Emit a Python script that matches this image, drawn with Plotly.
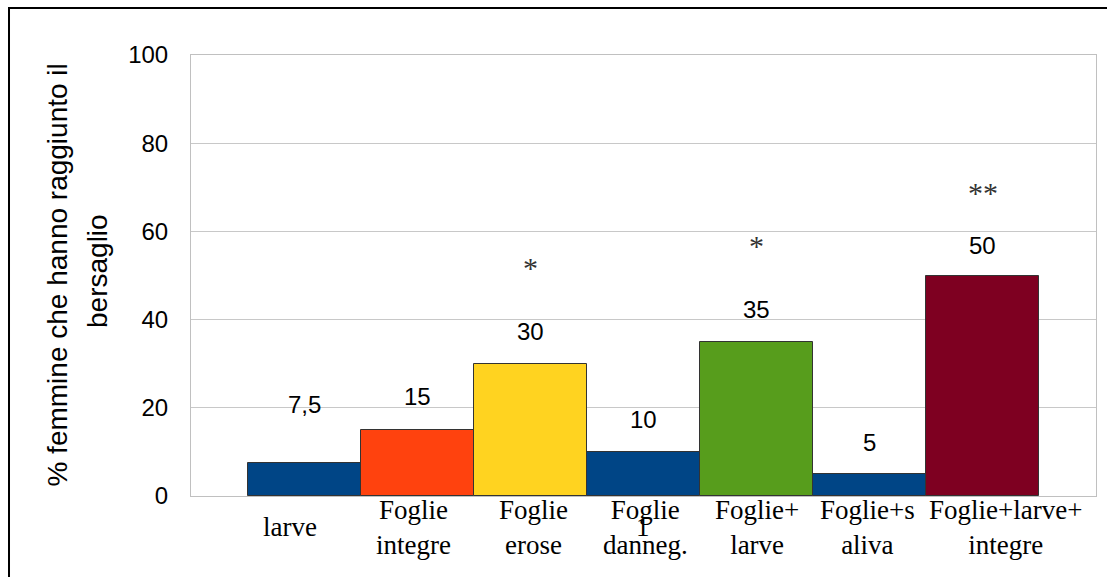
import plotly.graph_objects as go

# Treatments and share of females that reached the target (%)
categories = ["larve", "Foglie integre", "Foglie erose", "Foglie danneg.",
              "Foglie+ larve", "Foglie+s aliva", "Foglie+larve+ integre"]
tick_labels = ["larve", "Foglie<br>integre", "Foglie<br>erose", "Foglie<br>danneg.",
               "Foglie+<br>larve", "Foglie+s<br>aliva", "Foglie+larve+<br>integre"]
values = [7.5, 15, 30, 10, 35, 5, 50]
bar_colors = ["#004586", "#ff420e", "#ffd320", "#004586", "#579d1c", "#004586", "#7e0021"]

# Significance marks: category index, mark, height on the y scale
signif_idx = [2, 4, 6]
signif_text = ["*", "*", "**"]
signif_y = [52.8, 57.6, 69.8]

y_ticks = [0, 20, 40, 60, 80, 100]

SANS = "Liberation Sans, Arial, sans-serif"
SERIF = "Liberation Serif, Times New Roman, serif"

x_pos = list(range(len(categories)))

fig = go.Figure()
fig.add_trace(go.Bar(
    x=x_pos, y=values, width=1.0,
    marker=dict(color=bar_colors, line=dict(color="#333333", width=1)),
    hoverinfo="skip",
))

# value labels above the bars (Italian decimal comma)
label_shift = [58, 33, 32, 32, 32, 31, 30]
for xi, v, dy in zip(x_pos, values, label_shift):
    fig.add_annotation(x=xi, y=v, text=f"{v:g}".replace(".", ","), showarrow=False,
                       xref="x", yref="y", yanchor="middle", yshift=dy,
                       font=dict(family=SANS, size=24, color="#000000"))

# significance asterisks
for xi, t, yv in zip(signif_idx, signif_text, signif_y):
    fig.add_annotation(x=xi, y=yv, text=t, showarrow=False, xref="x", yref="y",
                       yanchor="middle", yshift=-4,
                       font=dict(family=SERIF, size=30, color="#333333"))

# category labels under the axis, vertically centred in the label band
label_xshift = [-14, -4, 3, 2, 0, -2, 23]
for xi, lab, dx in zip(x_pos, tick_labels, label_xshift):
    fig.add_annotation(x=xi, y=-0.0703, text=lab, showarrow=False, xref="x", yref="paper",
                       yanchor="middle", xshift=dx,
                       font=dict(family=SERIF, size=27, color="#000000"))

# stray digit sitting over the "Foglie danneg." label
fig.add_annotation(x=3, y=-0.07, text="1", showarrow=False, xref="x", yref="paper",
                   yanchor="middle", xshift=-1,
                   font=dict(family=SERIF, size=27, color="#000000"))

# y-axis title drawn as two rotated lines
fig.add_annotation(x=-0.148, y=0.5, xref="paper", yref="paper", showarrow=False,
                   text="% femmine che hanno raggiunto il", textangle=-90,
                   xanchor="center", yanchor="middle",
                   font=dict(family=SANS, size=28, color="#000000"))
fig.add_annotation(x=-0.104, y=0.51, xref="paper", yref="paper", showarrow=False,
                   text="bersaglio", textangle=-90,
                   xanchor="center", yanchor="middle",
                   font=dict(family=SANS, size=28, color="#000000"))

# outer frame
fig.add_shape(type="rect", xref="paper", yref="paper",
              x0=-0.2011, x1=1.02, y0=-0.2, y1=1.1066,
              line=dict(color="#000000", width=2), fillcolor="rgba(0,0,0,0)", layer="above")

fig.update_layout(
    width=1107, height=577,
    margin=dict(l=191, r=11, t=55, b=81),
    paper_bgcolor="#ffffff", plot_bgcolor="#ffffff",
    showlegend=False,
    bargap=0,
    xaxis=dict(range=[-1, 7], showticklabels=False, ticks="", showgrid=False,
               zeroline=False, showline=True, linecolor="#c0c0c0", linewidth=1, mirror=True),
    yaxis=dict(range=[0, 100], tickvals=y_ticks, ticktext=[str(t) for t in y_ticks],
               showgrid=True, gridcolor="#c8c8c8", gridwidth=1, zeroline=False,
               showline=True, linecolor="#c0c0c0", linewidth=1, mirror=True,
               ticks="outside", ticklen=17, tickcolor="rgba(0,0,0,0)",
               tickfont=dict(family=SANS, size=24, color="#000000")),
)

fig.write_html("out.html")
